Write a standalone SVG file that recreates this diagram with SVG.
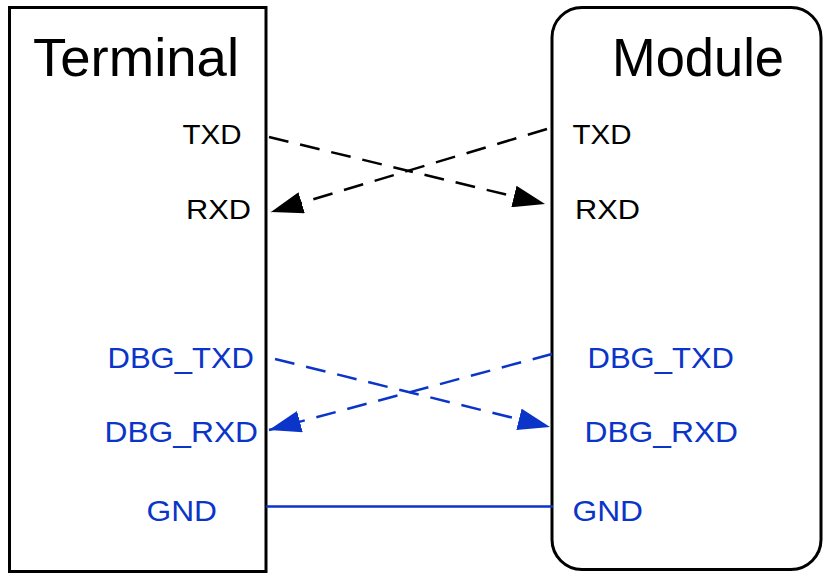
<svg xmlns="http://www.w3.org/2000/svg" width="825" height="573" viewBox="0 0 825 573">
<style>
.box{fill:none;stroke:#000;stroke-width:3}
.title{font-family:"Liberation Sans",Arial,sans-serif;font-size:54px;fill:#000}
.lbl{font-family:"Liberation Sans",Arial,sans-serif;font-size:27px;fill:#000}
.blbl{font-family:"Liberation Sans",Arial,sans-serif;font-size:29px;fill:#0a35c8}
.k{stroke:#000;stroke-width:2.5;stroke-dasharray:20 12;fill:none}
.b{stroke:#0a35c8;stroke-width:2.5;stroke-dasharray:20 12;fill:none}
</style>
<defs>
<marker id="ak" viewBox="0 0 32 22" refX="32" refY="11" markerWidth="32" markerHeight="22" markerUnits="userSpaceOnUse" orient="auto"><path d="M0,0 L32,11 L0,22 z" fill="#000"/></marker>
<marker id="ab" viewBox="0 0 32 22" refX="32" refY="11" markerWidth="32" markerHeight="22" markerUnits="userSpaceOnUse" orient="auto"><path d="M0,0 L32,11 L0,22 z" fill="#0a35c8"/></marker>
</defs>
<rect width="825" height="573" fill="#fff"/>
<g id="terminal">
<rect class="box" x="9.5" y="7.5" width="256.5" height="564"/>
<text class="title" x="33" y="76" textLength="206" lengthAdjust="spacingAndGlyphs">Terminal</text>
<text class="lbl" x="182.5" y="143.5" textLength="59" lengthAdjust="spacingAndGlyphs">TXD</text>
<text class="lbl" x="186" y="218.5" textLength="65" lengthAdjust="spacingAndGlyphs">RXD</text>
<text class="blbl" x="107.5" y="368" textLength="146.5" lengthAdjust="spacingAndGlyphs">DBG_TXD</text>
<text class="blbl" x="104.5" y="442" textLength="153.5" lengthAdjust="spacingAndGlyphs">DBG_RXD</text>
<text class="blbl" x="146.5" y="521" textLength="70.5" lengthAdjust="spacingAndGlyphs">GND</text>
</g>
<g id="module">
<rect class="box" x="552" y="7.5" width="269" height="562" rx="30" ry="30"/>
<text class="title" x="612" y="76" textLength="172" lengthAdjust="spacingAndGlyphs">Module</text>
<text class="lbl" x="572.5" y="143.5" textLength="59" lengthAdjust="spacingAndGlyphs">TXD</text>
<text class="lbl" x="575" y="218.5" textLength="65" lengthAdjust="spacingAndGlyphs">RXD</text>
<text class="blbl" x="587.5" y="368" textLength="146.5" lengthAdjust="spacingAndGlyphs">DBG_TXD</text>
<text class="blbl" x="584.5" y="442" textLength="153.5" lengthAdjust="spacingAndGlyphs">DBG_RXD</text>
<text class="blbl" x="572.5" y="521" textLength="70.5" lengthAdjust="spacingAndGlyphs">GND</text>
</g>
<g id="connectors">
<line class="k" x1="269" y1="137" x2="545" y2="204" marker-end="url(#ak)"/>
<line class="k" x1="547" y1="129" x2="271" y2="212" marker-end="url(#ak)"/>
<line class="b" x1="275" y1="359" x2="550" y2="427" marker-end="url(#ab)"/>
<line class="b" x1="552" y1="354" x2="269" y2="430" marker-end="url(#ab)"/>
<line x1="266" y1="506.5" x2="553" y2="506.5" stroke="#0a35c8" stroke-width="2.5"/>
</g>
</svg>
